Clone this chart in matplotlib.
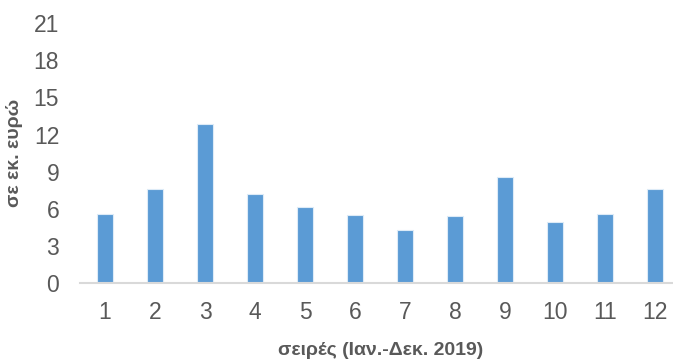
import matplotlib.pyplot as plt
from matplotlib import font_manager

# data
series = ['1', '2', '3', '4', '5', '6', '7', '8', '9', '10', '11', '12']
values = [5.56, 7.6, 12.87, 7.2, 6.13, 5.53, 4.32, 5.43, 8.55, 4.94, 5.56, 7.63]
yticks = [0, 3, 6, 9, 12, 15, 18, 21]

names = {f.name for f in font_manager.fontManager.ttflist}
narrow = 'Liberation Sans Narrow' if 'Liberation Sans Narrow' in names else 'Liberation Sans'
plt.rcParams['font.family'] = [narrow, 'DejaVu Sans']

fig = plt.figure(figsize=(6.73, 3.61), dpi=100)
ax = fig.add_axes([0.1189, 0.215, 0.892, 0.7215])

ax.bar(range(len(series)), values, width=0.32, color='#5B9BD5',
       edgecolor='#DDEBF7', linewidth=0.8)

ax.set_xlim(-0.5, len(series) - 0.5)
ax.set_ylim(0, 21)
ax.set_yticks(yticks)
ax.set_xticks(range(len(series)))
ax.set_xticklabels(series)

for s in ['top', 'right', 'left']:
    ax.spines[s].set_visible(False)
ax.spines['bottom'].set_color('#D9D9D9')
ax.spines['bottom'].set_linewidth(1.5)
ax.tick_params(axis='both', length=0, labelsize=16.5, colors='#595959')
ax.tick_params(axis='x', pad=13)
ax.tick_params(axis='y', pad=15)

ax.set_ylabel('σε εκ. ευρώ', fontsize=14, fontweight='bold', color='#595959',
              family=['Liberation Sans', 'DejaVu Sans'])
ax.yaxis.set_label_coords(-0.095, 0.5)
ax.set_xlabel('σειρές (Ιαν.-Δεκ. 2019)', fontsize=14, fontweight='bold',
              color='#595959', family=['Liberation Sans', 'DejaVu Sans'],
              va='center')
ax.xaxis.set_label_coords(0.5, -0.256)

fig.savefig('out.png', dpi=100)
